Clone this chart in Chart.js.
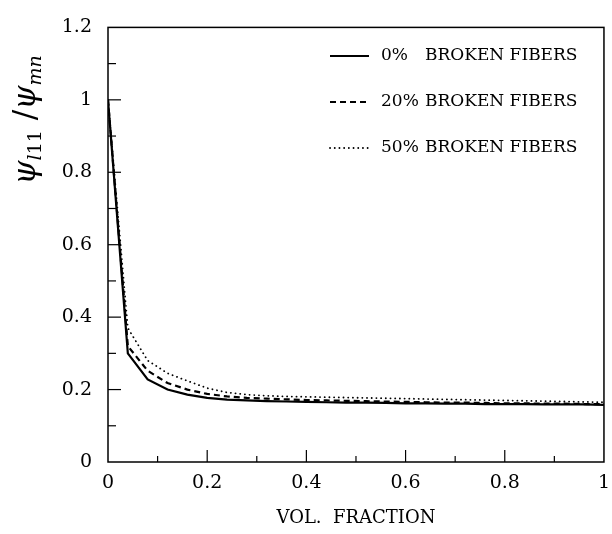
<!DOCTYPE html>
<html>
<head>
<meta charset="utf-8">
<script src="https://cdn.jsdelivr.net/npm/chart.js@4.4.1/dist/chart.umd.min.js"></script>
<style>
  html, body { margin: 0; padding: 0; background: white; overflow: hidden; }
  canvas { display: block; }
</style>
</head>
<body>
<canvas id="chart1" width="620" height="534"></canvas>
<script>
// volume fraction samples
const volFraction = [0, 0.04, 0.08, 0.12, 0.16, 0.2, 0.24, 0.28, 0.32, 0.36, 0.4, 0.44, 0.48,
  0.52, 0.56, 0.6, 0.64, 0.68, 0.72, 0.76, 0.8, 0.84, 0.88, 0.92, 0.96, 1.0];

// psi_l11 / psi_mn for each broken-fiber fraction
const broken0 = [1.0, 0.30, 0.228, 0.200, 0.186, 0.177, 0.172, 0.170, 0.168, 0.167, 0.166, 0.165, 0.164,
  0.164, 0.163, 0.162, 0.162, 0.161, 0.161, 0.160, 0.160, 0.160, 0.159, 0.159, 0.159, 0.158];
const broken20 = [1.0, 0.32, 0.252, 0.218, 0.200, 0.188, 0.181, 0.177, 0.175, 0.173, 0.171, 0.170, 0.169,
  0.168, 0.167, 0.166, 0.165, 0.164, 0.164, 0.163, 0.162, 0.162, 0.161, 0.161, 0.160, 0.160];
const broken50 = [1.0, 0.37, 0.280, 0.245, 0.224, 0.204, 0.192, 0.186, 0.183, 0.181, 0.180, 0.179, 0.178,
  0.177, 0.176, 0.175, 0.174, 0.173, 0.172, 0.171, 0.170, 0.169, 0.168, 0.167, 0.166, 0.165];

const seriesLabels = ["0% BROKEN FIBERS", "20% BROKEN FIBERS", "50% BROKEN FIBERS"];
const xTitle = "VOL.  FRACTION";

const serif = '"DejaVu Serif", "Liberation Serif", serif';

function toPoints(ys) {
  return volFraction.map((x, i) => ({ x: x, y: ys[i] }));
}

// frame, inward ticks, legend and the y title
const frameAndLegend = {
  id: 'frameAndLegend',
  afterDraw(chart) {
    const ctx = chart.ctx;
    const area = chart.chartArea;
    const xs = chart.scales.x;
    const ys = chart.scales.y;
    ctx.save();
    ctx.strokeStyle = "#000";
    ctx.lineWidth = 1.5;
    ctx.strokeRect(area.left, area.top, area.right - area.left, area.bottom - area.top);

    ctx.lineWidth = 1.2;
    for (let i = 1; i < 12; i++) {
      const py = ys.getPixelForValue(i / 10);
      const len = i % 2 === 0 ? 13 : 8;
      ctx.beginPath();
      ctx.moveTo(area.left, py);
      ctx.lineTo(area.left + len, py);
      ctx.stroke();
    }
    for (let i = 1; i < 10; i++) {
      const px = xs.getPixelForValue(i / 10);
      const len = i % 2 === 0 ? 12 : 6;
      ctx.beginPath();
      ctx.moveTo(px, area.bottom);
      ctx.lineTo(px, area.bottom - len);
      ctx.stroke();
    }

    // legend
    const rowY = [56, 102, 148];
    chart.data.datasets.forEach((ds, i) => {
      const y = rowY[i];
      ctx.lineWidth = ds.borderWidth;
      ctx.lineCap = ds.borderCapStyle || "butt";
      ctx.setLineDash(ds.borderDash || []);
      ctx.beginPath();
      ctx.moveTo(330, y);
      ctx.lineTo(369, y);
      ctx.stroke();
      ctx.setLineDash([]);
      ctx.lineCap = "butt";
      const sp = ds.label.indexOf(" ");
      ctx.fillStyle = "#000";
      ctx.font = '17px ' + serif;
      ctx.textBaseline = "middle";
      ctx.textAlign = "left";
      ctx.fillText(ds.label.slice(0, sp), 381, y);
      ctx.fillText(ds.label.slice(sp + 1), 425, y);
    });

    // y axis title: psi_l11 / psi_mn
    ctx.translate(35, 120);
    ctx.rotate(-Math.PI / 2);
    const big = 'italic 31px ' + serif;
    const sub = 'italic 19px ' + serif;
    const subUp = '19px ' + serif;
    const parts = [
      ["ψ", big, 0],
      ["l", sub, 6],
      ["11", subUp, 6],
      [" /", '31px ' + serif, 0],
      ["ψ", big, 0],
      ["mn", sub, 6],
    ];
    let total = 0;
    parts.forEach(p => { ctx.font = p[1]; total += ctx.measureText(p[0]).width; });
    let cx = -total / 2;
    ctx.textAlign = "left";
    ctx.textBaseline = "alphabetic";
    parts.forEach(p => {
      ctx.font = p[1];
      ctx.fillText(p[0], cx, p[2]);
      cx += ctx.measureText(p[0]).width;
    });
    ctx.restore();
  }
};

const dataChart1 = {
  datasets: [
    {
      label: seriesLabels[0],
      data: toPoints(broken0),
      borderColor: "#000",
      borderWidth: 2.2,
      pointRadius: 0,
      tension: 0,
    },
    {
      label: seriesLabels[1],
      data: toPoints(broken20),
      borderColor: "#000",
      borderWidth: 2.2,
      borderDash: [6, 4],
      pointRadius: 0,
      tension: 0,
    },
    {
      label: seriesLabels[2],
      data: toPoints(broken50),
      borderColor: "#000",
      borderWidth: 1.8,
      borderDash: [0.1, 4.6],
      borderCapStyle: "round",
      pointRadius: 0,
      tension: 0,
    },
  ]
};

const configChart1 = {
  type: "line",
  data: dataChart1,
  options: {
    responsive: false,
    animation: false,
    events: [],
    layout: {
      padding: { top: 15, right: 13, left: 0, bottom: 0 },
    },
    plugins: {
      legend: { display: false },
      tooltip: { enabled: false },
    },
    scales: {
      x: {
        type: "linear",
        min: 0,
        max: 1,
        afterFit: (scale) => { scale.height = 72; },
        border: { display: false },
        grid: { display: false, drawTicks: false },
        ticks: {
          stepSize: 0.2,
          padding: 10,
          color: "#000",
          font: { family: serif, size: 19 },
          maxRotation: 0,
          callback: (v) => String(+v.toFixed(1)),
        },
        title: {
          display: true,
          text: xTitle,
          color: "#000",
          font: { family: serif, size: 18 },
          padding: { top: 0, bottom: 5 },
        },
      },
      y: {
        min: 0,
        max: 1.2,
        afterFit: (scale) => { scale.width = 108; },
        border: { display: false },
        grid: { display: false, drawTicks: false },
        ticks: {
          stepSize: 0.2,
          padding: 16,
          color: "#000",
          font: { family: serif, size: 19 },
          callback: (v) => String(+v.toFixed(1)),
        },
      },
    },
  },
  plugins: [frameAndLegend],
};

const myChart1 = new Chart(document.getElementById('chart1'), configChart1);
</script>
</body>
</html>
